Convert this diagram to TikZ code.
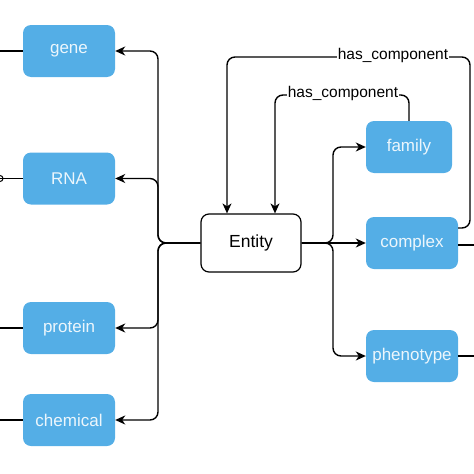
\documentclass[tikz,border=0pt]{standalone}
\usepackage{fontspec}
\setmainfont{Liberation Sans}
\usetikzlibrary{arrows.meta}
\definecolor{boxblue}{RGB}{84,174,230}
\definecolor{boxtext}{RGB}{236,246,252}
\begin{document}
\begin{tikzpicture}[x=1pt,y=-1pt,
  bluebox/.style={draw=none,fill=boxblue,rounded corners=8pt,minimum width=92pt,minimum height=52pt,inner sep=0pt,text=boxtext,font=\fontsize{17}{20}\selectfont},
  entitybox/.style={draw=black,fill=white,line width=1.2pt,rounded corners=8pt,minimum width=100pt,minimum height=58pt,inner sep=0pt,font=\fontsize{17.5}{20}\selectfont},
  conn/.style={draw=black,line width=1.4pt,rounded corners=8pt,-{Stealth[length=10pt,width=9pt,inset=3pt]}},
  plain/.style={draw=black,line width=1.4pt,rounded corners=8pt},
  lbl/.style={fill=white,inner sep=1pt,font=\fontsize{15.5}{18}\selectfont}]
\useasboundingbox (0,0) rectangle (474,474);
% nodes
\node[bluebox] (gene) at (69,51) {gene};
\node[bluebox] (rna) at (69,178.5) {RNA};
\node[bluebox] (protein) at (69,328) {protein};
\node[bluebox] (chemical) at (69,420) {chemical};
\node[bluebox,minimum width=86pt] (family) at (409,147) {family};
\node[bluebox] (complex) at (412,243) {complex};
\node[bluebox] (phenotype) at (412,356) {phenotype};
\node[entitybox] (entity) at (251,243) {Entity};
% coordinates
\coordinate (lj) at (158,243);
\coordinate (rj) at (333,243);
\coordinate (gL) at (0,51);
\coordinate (rL) at (0,178.5);
\coordinate (pL) at (0,328);
\coordinate (cL) at (0,420);
\coordinate (cxR) at (474,245);
\coordinate (phR) at (474,356);
% left branches
\draw[conn] (entity.west) -- (lj) |- (gene.east);
\draw[conn] (entity.west) -- (lj) |- (rna.east);
\draw[conn] (entity.west) -- (lj) |- (protein.east);
\draw[conn] (entity.west) -- (lj) |- (chemical.east);
% right branches
\draw[conn] (entity.east) -- (rj) |- (family.west);
\draw[conn] (entity.east) -- (complex.west);
\draw[conn] (entity.east) -- (rj) |- (phenotype.west);
% has_component inner
\coordinate (h1a) at (409,95);
\coordinate (h1b) at (275,95);
\draw[conn] (family.north) -- (h1a) -- (h1b) -- (h1b |- entity.north);
% has_component outer
\coordinate (h2s) at (458,228);
\coordinate (h2a) at (470,228);
\coordinate (h2b) at (470,57);
\coordinate (h2c) at (227,57);
\draw[conn] (h2s) -- (h2a) -- (h2b) -- (h2c) -- (h2c |- entity.north);
\node[lbl] (lab2) at (393,55) {has\_component};
\node[lbl] (lab1) at (343,93) {has\_component};
% lines off the edges
\draw[plain] (gene.west) -- (gL);
\draw[plain] (rna.west) -- (rL);
\draw[line width=1pt] (rL) circle (3pt);
\draw[plain] (protein.west) -- (pL);
\draw[plain] (chemical.west) -- (cL);
\draw[plain] (complex.east |- cxR) -- (cxR);
\draw[plain] (phenotype.east) -- (phR);
\end{tikzpicture}
\end{document}
